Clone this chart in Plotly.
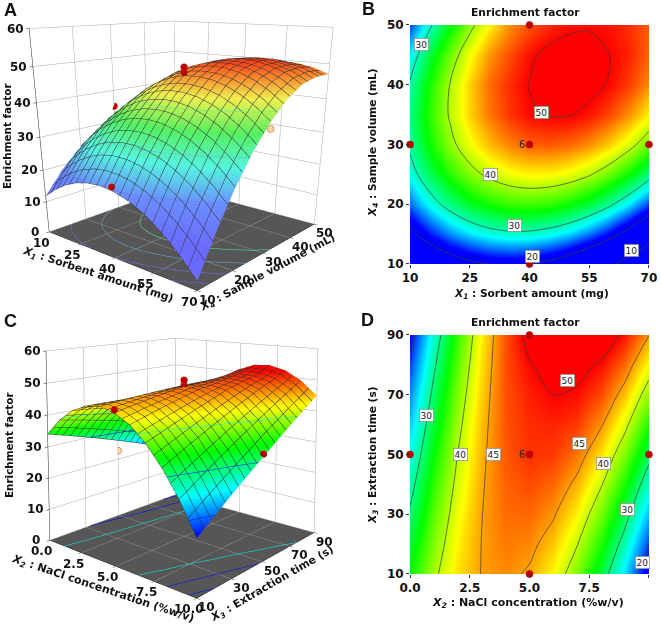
import plotly.graph_objects as go

FONT = "DejaVu Sans"

# Panels A / B : enrichment factor vs sorbent amount and sample volume
x1_mg = [10, 15, 20, 25, 30, 35, 40, 45, 50, 55, 60, 65, 70]
x4_ml = [10, 15, 20, 25, 30, 35, 40, 45, 50]
ef_ab = [
    [11.79, 14.93, 17.37, 19.09, 20.10, 20.40, 19.99, 18.86, 17.04, 14.49, 11.23, 7.27, 2.59],
    [18.96, 22.44, 25.22, 27.28, 28.64, 29.28, 29.21, 28.42, 26.94, 24.73, 21.82, 18.20, 13.86],
    [24.50, 28.32, 31.44, 33.85, 35.54, 36.52, 36.80, 36.35, 35.21, 33.35, 30.77, 27.49, 23.50],
    [28.42, 32.59, 36.05, 38.79, 40.83, 42.15, 42.77, 42.67, 41.87, 40.34, 38.11, 35.17, 31.52],
    [30.70, 35.21, 39.01, 42.10, 44.48, 46.14, 47.10, 47.34, 46.88, 45.70, 43.81, 41.21, 37.90],
    [31.36, 36.21, 40.35, 43.79, 46.51, 48.51, 49.70, 50.20, 50.15, 49.40, 47.89, 45.63, 42.66],
    [30.38, 35.58, 40.06, 43.83, 46.90, 48.70, 50.10, 51.00, 51.20, 50.80, 49.80, 48.20, 45.78],
    [27.78, 33.32, 38.14, 42.26, 45.66, 47.80, 49.60, 50.60, 51.10, 51.00, 50.00, 49.00, 47.00],
    [23.55, 29.43, 34.59, 39.05, 42.80, 45.82, 47.50, 48.80, 49.50, 49.70, 49.40, 48.60, 47.15],
]
pts_a_x = [40, 10, 40, 40, 40]
pts_a_y = [10, 30, 30, 30, 50]
pts_a_z = [21.0, 35.0, 48.0, 49.5, 47.0]
pt_a_low = ([70], [30], [36.0])

# Panels C / D : enrichment factor vs NaCl concentration and extraction time
x2_pct = [0, 1, 2, 3, 4, 5, 6, 7, 8, 9, 10]
x3_s = [10, 20, 30, 40, 50, 60, 70, 80, 90]
ef_cd = [
    [34.04, 39.30, 42.98, 45.10, 45.66, 44.64, 42.06, 37.90, 32.18, 24.90, 16.04],
    [32.31, 38.13, 42.38, 45.06, 46.18, 45.73, 43.71, 40.12, 34.96, 28.25, 19.95],
    [30.49, 36.88, 41.69, 44.94, 46.63, 46.74, 45.29, 42.26, 37.67, 31.52, 23.79],
    [28.59, 35.54, 40.92, 44.73, 46.98, 47.66, 46.77, 44.31, 40.28, 34.70, 27.53],
    [26.60, 34.12, 40.06, 44.44, 47.26, 48.50, 48.18, 46.28, 42.82, 37.80, 31.20],
    [24.53, 32.62, 39.12, 44.07, 47.46, 48.60, 48.90, 48.17, 45.28, 40.82, 34.79],
    [22.39, 31.04, 38.10, 43.62, 47.57, 49.00, 50.00, 49.60, 47.64, 43.76, 38.29],
    [20.15, 29.37, 36.98, 43.08, 47.60, 49.80, 51.00, 50.90, 49.60, 46.61, 41.71],
    [17.84, 27.62, 35.82, 42.46, 47.54, 51.04, 52.98, 53.34, 52.14, 49.38, 45.04],
]
pts_c_x = [5, 10, 5, 5, 5]
pts_c_y = [10, 50, 50, 50, 90]
pts_c_z = [45.5, 32.0, 49.0, 50.5, 48.0]
pt_c_low = ([0], [50], [23.0])

# Contour design points and their labels
pts_b_x = [40, 40, 10, 70, 40]
pts_b_y = [50, 10, 30, 30, 30]
pts_d_x = [5, 5, 0, 10, 5]
pts_d_y = [90, 10, 50, 50, 50]
labels_b = [(12.9, 46.8, "30"), (42.9, 35.3, "50"), (30.2, 24.9, "40"),
            (36.2, 16.5, "30"), (40.7, 11.2, "20"), (65.6, 12.3, "10")]
labels_d = [(6.57, 74.8, "50"), (7.1, 53.8, "45"), (8.08, 46.9, "40"),
            (9.09, 31.7, "30"), (9.72, 13.9, "20"), (0.67, 62.9, "30"),
            (2.12, 50, "40"), (3.5, 50, "45")]

ticks_x1 = [10, 25, 40, 55, 70]
ticks_x4 = [10, 20, 30, 40, 50]
ticks_x2 = [0, 2.5, 5, 7.5, 10]
ticktext_x2 = ["0.0", "2.5", "5.0", "7.5", "10.0"]
ticks_x3 = [10, 30, 50, 70, 90]
ticks_z = [0, 10, 20, 30, 40, 50, 60]

rainbow = [[0, "#0000ff"], [0.25, "#00ffff"], [0.5, "#00ff00"], [0.75, "#ffff00"], [1, "#ff0000"]]
rainbow_b = [[0, "#0000ff"], [0.21, "#00ffff"], [0.46, "#00ff00"], [0.73, "#ffff00"], [1, "#ff0000"]]
washed = [[0, "#6a6aff"], [0.22, "#6a8cff"], [0.42, "#55f5e0"], [0.6, "#55f060"],
          [0.78, "#f0f050"], [1, "#ff2a10"]]

fig = go.Figure()


def surface(x, y, z, scene, dx, dy, cs, cmin, cmax):
    fig.add_trace(go.Surface(
        x=x, y=y, z=z, scene=scene, showscale=False, colorscale=cs, cmin=cmin, cmax=cmax,
        lighting=dict(ambient=1, diffuse=0, specular=0, fresnel=0),
        hoverinfo="skip",
        contours=dict(
            x=dict(show=True, start=x[0], end=x[-1], size=dx, color="#303030", width=1),
            y=dict(show=True, start=y[0], end=y[-1], size=dy, color="#303030", width=1),
            z=dict(show=True, start=10, end=50, size=10, usecolormap=True, width=2,
                   project=dict(z=True)),
        ),
    ))


def points(x, y, z, scene, color):
    fig.add_trace(go.Scatter3d(x=x, y=y, z=z, scene=scene, mode="markers", hoverinfo="skip",
                               showlegend=False,
                               marker=dict(size=4, color=color, line=dict(color="#c04020", width=1))))


surface(x1_mg, x4_ml, ef_ab, "scene", 3, 2, washed, 10, 52)
points(pts_a_x, pts_a_y, pts_a_z, "scene", "#c00000")
points(*pt_a_low, "scene", "#ffd8a0")
surface(x2_pct, x3_s, ef_cd, "scene2", 0.5, 4, rainbow, 16, 52)
points(pts_c_x, pts_c_y, pts_c_z, "scene2", "#c00000")
points(*pt_c_low, "scene2", "#ffd8a0")


def contour_panel(x, y, z, xa, ya, cs, cmin, cmax, level_sets, px, py):
    fig.add_trace(go.Heatmap(x=x, y=y, z=z, xaxis=xa, yaxis=ya, zsmooth="best", showscale=False,
                             colorscale=cs, zmin=cmin, zmax=cmax, hoverinfo="skip"))
    for a, b, s in level_sets:
        fig.add_trace(go.Contour(x=x, y=y, z=z, xaxis=xa, yaxis=ya, showscale=False, hoverinfo="skip",
                                 autocontour=False,
                                 contours=dict(coloring="none", start=a, end=b, size=s),
                                 line=dict(color="#3a3a3a", width=0.7, smoothing=1)))
    fig.add_trace(go.Scatter(x=px, y=py, xaxis=xa, yaxis=ya, mode="markers", cliponaxis=False,
                             hoverinfo="skip", showlegend=False,
                             marker=dict(size=7, color="#c00000", line=dict(color="#a00000", width=0.5))))


contour_panel(x1_mg, x4_ml, ef_ab, "x", "y", rainbow_b, 22, 50, [(10, 50, 10)], pts_b_x, pts_b_y)
contour_panel(x2_pct, x3_s, ef_cd, "x2", "y2", rainbow, 18, 50, [(20, 50, 10), (45, 45, 1)], pts_d_x, pts_d_y)


def axis3d(vals, rng, bg="white"):
    return dict(title=dict(text=""), range=rng, tickvals=vals, showticklabels=False, showgrid=True,
                gridcolor="#a8a8a8", gridwidth=1, showline=True, linecolor="#202020", linewidth=1,
                zeroline=False, showbackground=True, backgroundcolor=bg, showspikes=False,
                ticks="outside", ticklen=3, tickcolor="#202020")


def tick_ann(xv, xt, yv, zv, x0, y0, z0):
    out = []
    base = dict(showarrow=False, font=dict(family=FONT, size=12, color="#111111"))
    for v, t in zip(xv, xt):
        out.append(dict(x=v, y=y0, z=z0, text=f"<b>{t}</b>", xshift=-8, yshift=-11, **base))
    for v in yv:
        out.append(dict(x=xv[-1], y=v, z=z0, text=f"<b>{v}</b>", xshift=10, yshift=-9, **base))
    for v in zv:
        out.append(dict(x=x0, y=y0, z=v, text=f"<b>{v}</b>", xshift=-14, yshift=0, **base))
    return out


cam_a = dict(eye=dict(x=1.856, y=-2.174, z=0.65), center=dict(x=0, y=0, z=-0.57), up=dict(x=0, y=0, z=1))
cam_c = dict(eye=dict(x=2.27, y=-2.65, z=0.86), center=dict(x=0, y=0, z=0.52), up=dict(x=0, y=0, z=1))

W, H = 661, 626
ann = []


def txt(px, py, text, size=12, angle=0, family=FONT):
    ann.append(dict(xref="paper", yref="paper", x=px / W, y=1 - py / H, text=text, showarrow=False,
                    xanchor="center", yanchor="middle", textangle=angle,
                    font=dict(family=family, size=size, color="#111111")))


T1 = "<b><i>X<sub>1</sub></i> : Sorbent amount (mg)</b>"
T4 = "<b><i>X<sub>4</sub></i> : Sample volume (mL)</b>"
T2 = "<b><i>X<sub>2</sub></i> : NaCl concentration (%w/v)</b>"
T3 = "<b><i>X<sub>3</sub></i> : Extraction time (s)</b>"
EF = "<b>Enrichment factor</b>"
txt(98, 275, T1, 10.8, 18)
txt(267, 273, T4, 10.8, -28)
txt(7, 136, EF, 10.4, -90)
txt(103, 589, T2, 11, 18.5)
txt(272, 584, T3, 10.8, -30)
txt(9, 445, EF, 10.4, -90)
txt(525, 13, EF, 10.7)
txt(525, 322, EF, 10.7)
txt(531.7, 294, T1, 10.6)
txt(373, 143, T4, 10.6, -90)
txt(527.5, 603, T2, 11)
txt(373, 455, T3, 10.6, -90)
txt(10, 10, "<b>A</b>", 18, family="Liberation Sans")
txt(368, 9, "<b>B</b>", 18, family="Liberation Sans")
txt(10, 321, "<b>C</b>", 18, family="Liberation Sans")
txt(367, 320, "<b>D</b>", 18, family="Liberation Sans")

for xa, ya, labs in (("x", "y", labels_b), ("x2", "y2", labels_d)):
    for lx, ly, s in labs:
        ann.append(dict(xref=xa, yref=ya, x=lx, y=ly, text=s, showarrow=False, bgcolor="white",
                        bordercolor="#777777", borderwidth=0.6, borderpad=1,
                        font=dict(family=FONT, size=9, color="#222222")))
ann.append(dict(xref="x", yref="y", x=38.2, y=30, text="6", showarrow=False,
                font=dict(family=FONT, size=10, color="#222222")))
ann.append(dict(xref="x2", yref="y2", x=4.7, y=50, text="6", showarrow=False,
                font=dict(family=FONT, size=10, color="#222222")))


def axis2d(rng, vals, text=None):
    return dict(range=rng, tickvals=vals, ticktext=text, ticks="outside", ticklen=3, showgrid=False,
                zeroline=False, showline=False, tickcolor="#333333", automargin=False,
                tickfont=dict(family=FONT, size=12, color="#111111", weight=700))


fig.update_layout(
    width=W, height=H, margin=dict(l=0, r=0, t=0, b=0), paper_bgcolor="white", plot_bgcolor="white",
    showlegend=False, annotations=ann,
    scene=dict(domain=dict(x=[0.0, 0.557], y=[0.233, 1.0]), camera=cam_a,
               aspectmode="manual", aspectratio=dict(x=1, y=1, z=1),
               xaxis=axis3d(ticks_x1, [10, 70]), yaxis=axis3d(ticks_x4, [10, 50]),
               zaxis=axis3d(ticks_z, [0, 60], bg="#565656"),
               annotations=tick_ann(ticks_x1, ticks_x1, ticks_x4, ticks_z, 10, 10, 0)),
    scene2=dict(domain=dict(x=[0.0, 0.557], y=[0.0, 0.895]), camera=cam_c,
                aspectmode="manual", aspectratio=dict(x=1, y=1, z=1),
                xaxis=axis3d(ticks_x2, [0, 10]), yaxis=axis3d(ticks_x3, [10, 90]),
                zaxis=axis3d(ticks_z, [0, 60], bg="#565656"),
                annotations=tick_ann(ticks_x2, ticktext_x2, ticks_x3, ticks_z, 0, 10, 0)),
    xaxis=dict(domain=[0.6203, 0.9818], anchor="y", **axis2d([10, 70], ticks_x1)),
    yaxis=dict(domain=[0.5783, 0.9601], anchor="x", **axis2d([10, 50], ticks_x4)),
    xaxis2=dict(domain=[0.6203, 0.9818], anchor="y2", **axis2d([0, 10], ticks_x2, ticktext_x2)),
    yaxis2=dict(domain=[0.0831, 0.4649], anchor="x2", **axis2d([10, 90], ticks_x3)),
)

fig.write_html("out.html", config=dict(displayModeBar=False),
               post_script="document.body.style.margin='0';document.documentElement.style.overflow='hidden';")
